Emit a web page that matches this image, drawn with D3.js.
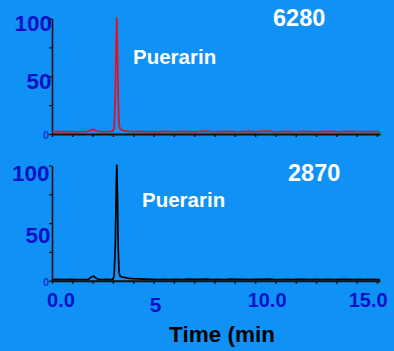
<!DOCTYPE html>
<html>
<head>
<meta charset="utf-8">
<script src="https://cdn.jsdelivr.net/npm/d3@7"></script>
<style>
  html, body { margin: 0; padding: 0; background: #0f91f5; }
  svg { display: block; }
  text { font-family: "Liberation Sans", Arial, sans-serif; font-weight: bold; }
</style>
</head>
<body>
<svg id="chart" width="394" height="351"></svg>
<script>
// Retention time (min) sampled along both chromatograms
const timeMin = [0.0, 0.3, 0.6, 0.9, 1.2, 1.5, 1.8, 1.95, 2.05, 2.15, 2.3, 2.5, 2.7, 2.9,
  3.0, 3.06, 3.12, 3.16, 3.19, 3.22, 3.26, 3.3, 3.35, 3.45, 3.6, 3.8, 4.0, 4.3, 4.6, 4.9,
  5.2, 5.5, 5.8, 6.1, 6.4, 6.7, 7.0, 7.3, 7.6, 7.9, 8.2, 8.5, 8.8, 9.1, 9.4, 9.7, 10.0,
  10.3, 10.6, 10.9, 11.2, 11.5, 11.8, 12.1, 12.4, 12.7, 13.0, 13.3, 13.6, 13.9, 14.2,
  14.5, 14.8, 15.1, 15.4, 15.7, 16.0, 16.15];

// Relative intensity (%) — sample 6280 (red trace)
const sample6280 = [1.5, 1.8, 1.4, 1.7, 1.5, 1.6, 1.9, 3.2, 3.6, 2.4, 1.7, 1.6, 1.5, 1.8,
  1.9, 5, 35, 80, 100, 78, 30, 8, 4, 3, 2.2, 1.8, 1.6, 1.9, 1.5, 1.7,
  1.4, 1.8, 1.6, 1.5, 1.9, 1.6, 1.4, 1.8, 2.0, 1.5, 1.7, 1.6, 1.9, 1.5, 1.6, 1.8, 1.4,
  1.9, 2.1, 1.6, 1.5, 1.8, 1.7, 1.5, 1.9, 1.6, 1.4, 1.7, 1.8, 1.6,
  1.5, 1.9, 1.7, 1.6, 1.5, 1.7, 1.6, 1.5];

// Relative intensity (%) — sample 2870 (black trace)
const sample2870 = [0.6, 0.7, 0.5, 0.7, 0.6, 0.6, 0.8, 3.0, 3.4, 2.0, 0.7, 0.6, 0.7, 0.6,
  0.8, 4, 32, 78, 100, 76, 28, 7, 3.5, 2.8, 2.3, 1.6, 1.3, 1.2, 1.0, 0.8,
  0.6, 0.7, 0.6, 0.7, 0.6, 0.9, 0.7, 0.8, 1.0, 0.6, 0.7, 0.6, 0.9, 0.7, 0.8, 0.6, 0.7,
  0.8, 1.0, 0.7, 0.6, 0.7, 0.6, 0.7, 0.8, 0.6, 0.7, 0.6, 0.7, 0.6,
  0.7, 0.8, 0.6, 0.7, 0.6, 0.7, 0.6, 0.6];

const yTickValues = [0, 25, 50, 75, 100];
const yTickLabels = ["100", "50"];
const xTickValues = d3.range(0, 17, 1);
const xTickLabels = [
  { t: 0, text: "0.0" },
  { t: 5, text: "5" },
  { t: 10, text: "10.0" },
  { t: 15, text: "15.0" }
];
const panels = [
  { name: "6280", compound: "Puerarin", values: sample6280, color: "#e8101a" },
  { name: "2870", compound: "Puerarin", values: sample2870, color: "#000000" }
];

// ---- layout ----
const svg = d3.select("#chart");
const labelBlue = "#0a12c6";
const x = d3.scaleLinear().domain([0, 16.15]).range([52, 380]);
const panelRanges = [[134, 18.5], [280.7, 165.5]];
const panelLabelLayout = [
  { valueDy: { "100": 12.5, "50": 13 }, valueX: { "100": 52, "50": 51.5 }, zeroX: 49, zeroY: 139,
    compX: 133, compY: 64, idX: 273, idY: 26 },
  { valueDy: { "100": 15.5, "50": 20 }, valueX: { "100": 49.5, "50": 50.5 }, zeroX: 49, zeroY: 286,
    compX: 142, compY: 207, idX: 288, idY: 181 }
];

panels.forEach((p, i) => {
  const y = d3.scaleLinear().domain([0, 100]).range(panelRanges[i]);
  const lay = panelLabelLayout[i];
  const g = svg.append("g");

  // y value labels (drawn first so the axis line sits on top)
  yTickLabels.forEach(v => {
    g.append("text")
      .attr("x", lay.valueX[v])
      .attr("y", y(+v) + lay.valueDy[v])
      .attr("text-anchor", "end")
      .attr("font-size", 22.5)
      .attr("fill", labelBlue)
      .text(v);
  });
  g.append("text")
    .attr("x", lay.zeroX)
    .attr("y", lay.zeroY)
    .attr("text-anchor", "end")
    .attr("font-size", 11)
    .attr("font-weight", "normal")
    .attr("fill", "#1434d6")
    .text("0");

  // x axis (ticks only, no labels)
  const xAxis = g.append("g")
    .attr("transform", `translate(0,${y(0)})`)
    .call(d3.axisBottom(x).tickValues(xTickValues).tickSize(3).tickSizeOuter(0).tickFormat(""));
  xAxis.select(".domain").attr("stroke", "#111").attr("stroke-width", 2);
  xAxis.selectAll(".tick line").attr("stroke", "#111").attr("stroke-width", 1.5);

  // y axis
  const yAxis = g.append("g")
    .attr("transform", `translate(${x(0)},0)`)
    .call(d3.axisLeft(y).tickValues(yTickValues).tickSize(3).tickSizeOuter(0).tickFormat(""));
  yAxis.select(".domain").attr("stroke", "#111").attr("stroke-width", 1.6);
  yAxis.selectAll(".tick line").attr("stroke", "#111").attr("stroke-width", 1.2);

  // trace
  const line = d3.line()
    .x((d, k) => x(timeMin[k]))
    .y(d => y(d) - 0.5);
  g.append("path")
    .datum(p.values)
    .attr("fill", "none")
    .attr("stroke", p.color)
    .attr("stroke-width", 1.7)
    .attr("stroke-linejoin", "round")
    .attr("d", line);

  // compound and sample annotations
  g.append("text")
    .attr("x", lay.compX).attr("y", lay.compY)
    .attr("font-size", 20.5).attr("fill", "#ffffff")
    .text(p.compound);
  g.append("text")
    .attr("x", lay.idX).attr("y", lay.idY)
    .attr("font-size", 23.5).attr("fill", "#ffffff")
    .text(p.name);
});

// time labels under the lower panel
const xLabelNudge = { 0: { dx: 9, y: 307, size: 20 }, 5: { dx: 2, y: 312, size: 21 },
  10: { dx: 12, y: 307, size: 20 }, 15: { dx: 11.5, y: 307, size: 20 } };
svg.append("g").selectAll("text")
  .data(xTickLabels)
  .join("text")
  .attr("x", d => x(d.t) + xLabelNudge[d.t].dx)
  .attr("y", d => xLabelNudge[d.t].y)
  .attr("text-anchor", "middle")
  .attr("font-size", d => xLabelNudge[d.t].size)
  .attr("fill", labelBlue)
  .text(d => d.text);

svg.append("text")
  .attr("x", 222).attr("y", 342)
  .attr("text-anchor", "middle")
  .attr("font-size", 22.5)
  .attr("fill", "#000")
  .text("Time (min");
</script>
</body>
</html>
